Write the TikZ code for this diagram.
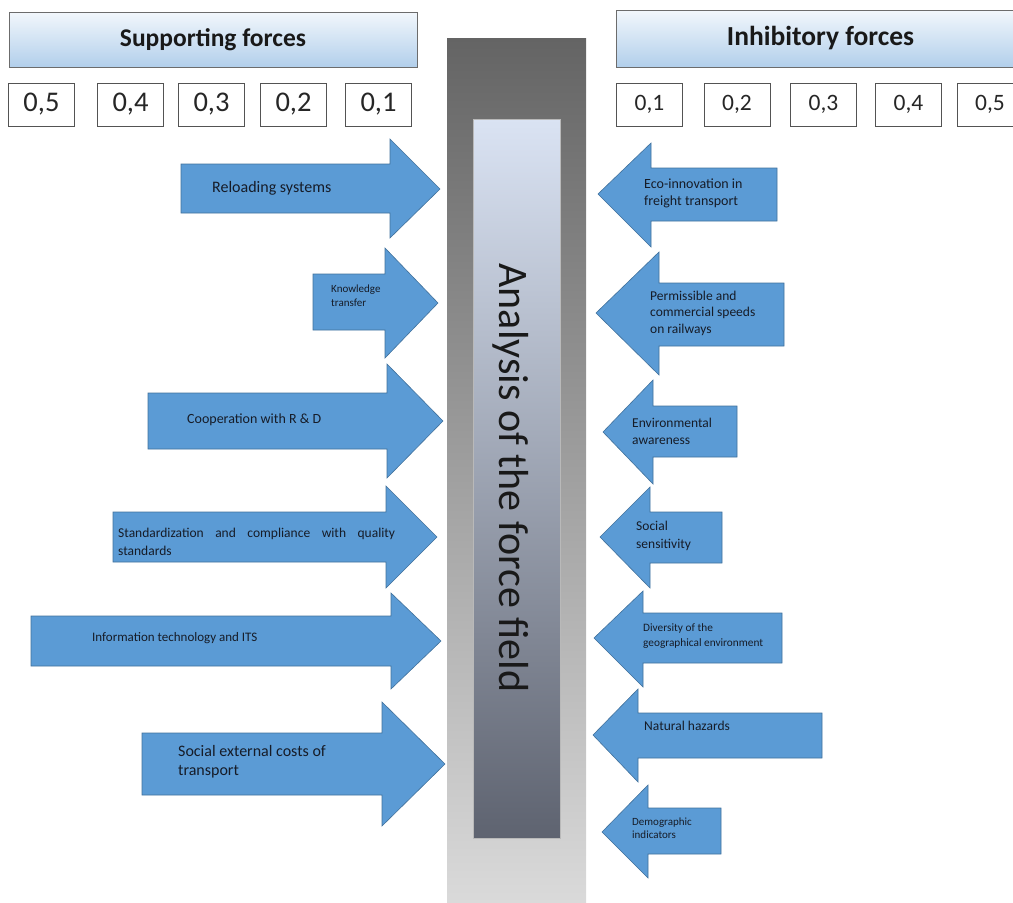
\documentclass[tikz,border=0pt]{standalone}
\usepackage{fontspec}
\setmainfont{Carlito}
\usepackage{tikz}
\definecolor{forceblue}{RGB}{91,155,213}
\definecolor{forceedge}{RGB}{65,113,156}
\definecolor{headtop}{RGB}{242,247,252}
\definecolor{headbot}{RGB}{178,207,235}
\definecolor{bartop}{RGB}{100,100,100}
\definecolor{barbot}{RGB}{218,218,218}
\definecolor{innertop}{RGB}{218,227,243}
\definecolor{innerbot}{RGB}{94,99,112}
\definecolor{labeltext}{RGB}{22,28,40}

\begin{document}
\begin{tikzpicture}[x=1pt,y=-1pt,
	force/.style={fill=forceblue,draw=forceedge,line width=0.6pt},
	lbl/.style={anchor=west,align=left,inner sep=0pt,text=labeltext},
	header/.style={draw=gray!85!black,line width=0.7pt,top color=headtop,bottom color=headbot,inner sep=0pt,text=black!90},
	valbox/.style={draw=gray!65!black,line width=0.7pt,fill=white,minimum width=66pt,minimum height=43pt,inner sep=0pt,text=black!85}]
			\useasboundingbox (0,0) rectangle (1013,903);
			\clip (0,0) rectangle (1013,903);
			% headers
			\node[header,minimum width=408pt,minimum height=55pt,font=\bfseries\fontsize{25.5}{28}\selectfont] (support) at (213,39.5) {Supporting forces};
			\node[header,minimum width=409pt,minimum height=57pt,font=\bfseries\fontsize{27.5}{30}\selectfont] (inhibit) at (820.5,38.5) {Inhibitory forces};
			% weights
			\node[valbox,font=\fontsize{28.5}{31}\selectfont] (s5) at (41.5,104.5) {0,5};
			\node[valbox,font=\fontsize{28.5}{31}\selectfont] (s4) at (130.5,104.5) {0,4};
			\node[valbox,font=\fontsize{28.5}{31}\selectfont] (s3) at (211.5,104.5) {0,3};
			\node[valbox,font=\fontsize{28.5}{31}\selectfont] (s2) at (293.5,104.5) {0,2};
			\node[valbox,font=\fontsize{28.5}{31}\selectfont] (s1) at (378.5,104.5) {0,1};
			\node[valbox,font=\fontsize{23.5}{27}\selectfont] (i1) at (649.5,104.5) {0,1};
			\node[valbox,font=\fontsize{23.5}{27}\selectfont] (i2) at (737,104.5) {0,2};
			\node[valbox,font=\fontsize{23.5}{27}\selectfont] (i3) at (823.5,104.5) {0,3};
			\node[valbox,font=\fontsize{23.5}{27}\selectfont] (i4) at (908.5,104.5) {0,4};
			\node[valbox,font=\fontsize{23.5}{27}\selectfont] (i5) at (990,104.5) {0,5};
			% central bar
			\shade[top color=bartop,bottom color=barbot] (447,38) rectangle (586,903);
			\shade[top color=innertop,bottom color=innerbot,draw=gray!55] (473,119) rectangle (560,838);
			\node[rotate=-90,anchor=base,inner sep=0pt,text=black!90,font=\fontsize{42}{46}\selectfont] (field) at (499,478) {Analysis of the force field};
			% supporting forces
			\draw[force] (181,164)--(390,164)--(390,139)--(440,189)--(390,238)--(390,213)--(181,213)--cycle;
			\draw[force] (313,274)--(385,274)--(385,248)--(438,303)--(385,358)--(385,330)--(313,330)--cycle;
			\draw[force] (148,393)--(387,393)--(387,364)--(443,421)--(387,478)--(387,449)--(148,449)--cycle;
			\draw[force] (113,512)--(386,512)--(386,486)--(437,537)--(386,588)--(386,562)--(113,562)--cycle;
			\draw[force] (31,616)--(391,616)--(391,593)--(441,641)--(391,689)--(391,666)--(31,666)--cycle;
			\draw[force] (142,733)--(382,733)--(382,702)--(445,764)--(382,826)--(382,795)--(142,795)--cycle;
			\node[lbl,font=\fontsize{16}{19}\selectfont] (reload) at (212,188) {Reloading systems};
			\node[lbl,font=\fontsize{11}{14}\selectfont] (know) at (331,296) {Knowledge\\transfer};
			\node[lbl,font=\fontsize{14}{17}\selectfont] (coop) at (187,420) {Cooperation with R \& D};
			\node[lbl,text width=277pt,font=\fontsize{13.5}{18}\selectfont] (stand) at (118,542) {Standardization\hfill and\hfill compliance\hfill with\hfill quality\\standards};
			\node[lbl,font=\fontsize{13}{16}\selectfont] (info) at (92,638) {Information technology and ITS};
			\node[lbl,font=\fontsize{16}{19}\selectfont] (social) at (178,762) {Social external costs of\\transport};
			% inhibitory forces
			\draw[force] (777,168)--(651,168)--(651,143)--(598,194)--(651,247)--(651,221)--(777,221)--cycle;
			\draw[force] (784,283)--(659,283)--(659,252)--(596,313)--(659,375)--(659,346)--(784,346)--cycle;
			\draw[force] (737,406)--(653,406)--(653,380)--(603,432)--(653,484)--(653,457)--(737,457)--cycle;
			\draw[force] (722,512)--(650,512)--(650,487)--(600,537)--(650,588)--(650,563)--(722,563)--cycle;
			\draw[force] (782,613)--(643,613)--(643,591)--(594,638)--(643,687)--(643,663)--(782,663)--cycle;
			\draw[force] (822,713)--(638,713)--(638,689)--(593,735)--(638,782)--(638,758)--(822,758)--cycle;
			\draw[force] (721,808)--(648,808)--(648,785)--(602,832)--(648,878)--(648,854)--(721,854)--cycle;
			\node[lbl,font=\fontsize{14}{17}\selectfont] (eco) at (644,193.5) {Eco-innovation in\\freight transport};
			\node[lbl,font=\fontsize{13.5}{16.5}\selectfont] (speed) at (650,313) {Permissible and\\commercial speeds\\on railways};
			\node[lbl,font=\fontsize{13.5}{17}\selectfont] (envir) at (632,431) {Environmental\\awareness};
			\node[lbl,font=\fontsize{13.5}{18}\selectfont] (sensi) at (636,536) {Social\\sensitivity};
			\node[lbl,font=\fontsize{11.3}{15}\selectfont] (diver) at (643,636) {Diversity of the\\geographical environment};
			\node[lbl,font=\fontsize{13.5}{17}\selectfont] (hazard) at (644,726) {Natural hazards};
			\node[lbl,font=\fontsize{11}{13}\selectfont] (demo) at (632,828) {Demographic\\indicators};
		\end{tikzpicture}
\end{document}
